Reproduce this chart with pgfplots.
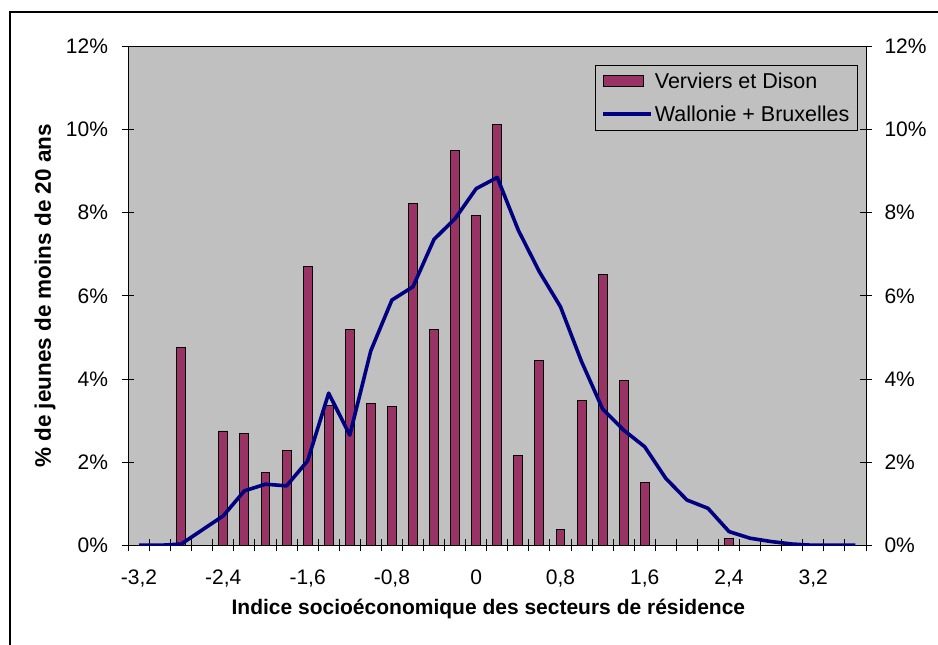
\documentclass[border=0pt]{standalone}
\usepackage{fontspec}
\setmainfont{Liberation Sans}
\usepackage{pgfplots}
\pgfplotsset{compat=1.18}
\definecolor{plotgray}{HTML}{C0C0C0}
\definecolor{barcol}{HTML}{993366}
\definecolor{linecol}{HTML}{000080}
\begin{document}
\begin{tikzpicture}
\path[use as bounding box] (0pt,0pt) rectangle (938pt,645pt);
\draw[line width=1.4pt] (10pt,-20pt) rectangle (960pt,633pt);
\begin{axis}[
  at={(128.5pt,99.7pt)}, anchor=south west,
  scale only axis, width=737.5pt, height=498.8pt,
  xmin=-0.5, xmax=34.5, ymin=0, ymax=12,
  axis background/.style={fill=plotgray},
  axis line style={black, line width=0.9pt},
  tick align=center,
  major tick length=12pt, minor tick length=12pt,
  tick style={black, line width=0.9pt},
  xtick={0,4,...,32},
  xticklabels={{-3,2},{-2,4},{-1,6},{-0,8},{0},{0,8},{1,6},{2,4},{3,2}},
  minor xtick={-0.5,0.5,...,34.5},
  major x tick style={draw=none},
  xtick pos=bottom, ytick pos=left,
  ytick={0,2,...,12},
  yticklabels={0\%,2\%,4\%,6\%,8\%,10\%,12\%},
  ticklabel style={font=\fontsize{21}{25}\selectfont},
  xticklabel style={yshift=-15pt},
  yticklabel style={xshift=-11pt},
  xlabel={Indice socioéconomique des secteurs de résidence},
  ylabel={\% de jeunes de moins de 20 ans},
  xlabel style={at={(axis description cs:0.488,-0.127)}, anchor=center, font=\bfseries\fontsize{21}{25}\selectfont},
  ylabel style={at={(axis description cs:-0.113,0.5)}, anchor=center, font=\bfseries\fontsize{22.5}{26}\selectfont},
  legend style={at={(0.989,0.963)}, anchor=north east, fill=plotgray, draw=black, line width=0.9pt,
    font=\fontsize{21.5}{25}\selectfont, inner xsep=6pt, inner ysep=6pt, row sep=11pt},
  legend cell align=left,
]
\addplot[ybar, bar width=8.9pt, bar shift=0pt, fill=barcol, draw=black, line width=0.9pt,
  legend image code/.code={\draw[fill=barcol, draw=black, line width=0.9pt] (0pt,-5pt) rectangle (40pt,6pt);}]
coordinates {
(2,4.77) (4,2.75) (5,2.70) (6,1.75) (7,2.27) (8,6.71) (9,3.37) (10,5.20) (11,3.42)
(12,3.33) (13,8.22) (14,5.20) (15,9.49) (16,7.94) (17,10.13) (18,2.15) (19,4.45)
(20,0.39) (21,3.49) (22,6.52) (23,3.97) (24,1.51) (28,0.16)
};
\addlegendentry{Verviers et Dison}
\addplot[linecol, line width=3.6pt, line join=round, mark=none,
  legend image code/.code={\draw[linecol, line width=3.6pt] (0pt,0pt) -- (48pt,0pt);}]
coordinates {
(0,0) (1,0) (2,0.03) (3,0.37) (4,0.71) (5,1.31) (6,1.47) (7,1.43) (8,2.03) (9,3.66)
(10,2.65) (11,4.68) (12,5.90) (13,6.22) (14,7.36) (15,7.86) (16,8.58) (17,8.85)
(18,7.58) (19,6.58) (20,5.74) (21,4.42) (22,3.28) (23,2.77) (24,2.37) (25,1.61)
(26,1.09) (27,0.89) (28,0.33) (29,0.17) (30,0.09) (31,0.03) (32,0) (33,0) (34,0)
};
\addlegendentry{Wallonie + Bruxelles}
\end{axis}
\begin{axis}[
  at={(128.5pt,99.7pt)}, anchor=south west,
  scale only axis, width=737.5pt, height=498.8pt,
  xmin=-0.5, xmax=34.5, ymin=0, ymax=12,
  hide x axis, axis y line*=right,
  axis line style={black, line width=0.9pt},
  tick align=center, major tick length=12pt,
  tick style={black, line width=0.9pt},
  ytick={0,2,...,12},
  yticklabels={0\%,2\%,4\%,6\%,8\%,10\%,12\%},
  ticklabel style={font=\fontsize{21}{25}\selectfont},
  yticklabel style={xshift=9pt},
]
\end{axis}
\end{tikzpicture}
\end{document}
